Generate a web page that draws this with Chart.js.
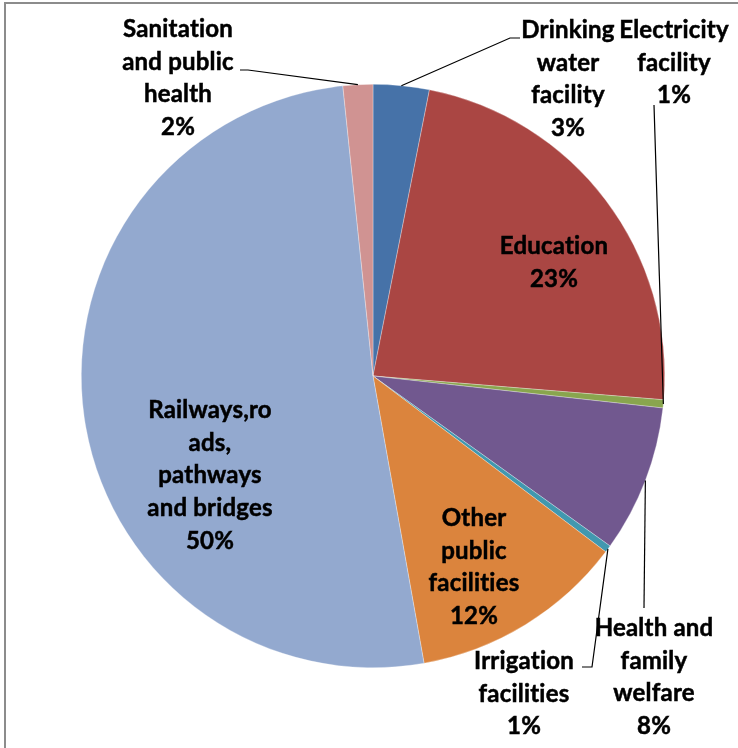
<!DOCTYPE html>
<html>
<head>
<meta charset="utf-8">
<script src="https://cdn.jsdelivr.net/npm/chart.js@4"></script>
<style>
  body { margin: 0; background: #fff; }
  #pie { display: block; }
</style>
</head>
<body>
<canvas id="pie" width="738" height="748"></canvas>
<script>
// data
const sectors = ['Drinking water facility', 'Education', 'Electricity facility', 'Health and family welfare',
  'Irrigation facilities', 'Other public facilities', 'Railways,roads, pathways and bridges', 'Sanitation and public health'];
const shares = [3.1, 23.2, 0.45, 8.15, 0.4, 11.9, 51.15, 1.65];
const pctText = ['3%', '23%', '1%', '8%', '1%', '12%', '50%', '2%'];
const labelLines = [
  ['Drinking', 'water', 'facility'],
  ['Education'],
  ['Electricity', 'facility'],
  ['Health and', 'family', 'welfare'],
  ['Irrigation', 'facilities'],
  ['Other', 'public', 'facilities'],
  ['Railways,ro', 'ads,', 'pathways', 'and bridges'],
  ['Sanitation', 'and public', 'health']
];
const colors = ['#4672A8', '#AA4643', '#89A54E', '#71588F', '#4198AF', '#DB843D', '#93A9CF', '#D09392'];

// label layout: centre x, first line y
const labelPos = [[568, 30], [554, 246], [674, 30], [654, 628], [524, 661], [474, 518], [210, 410], [178, 29]];
// leader lines start at the label side, end on the slice edge
const leaders = [
  [[520, 38], [510, 38]],
  null,
  [[654, 105]],
  [[644, 608]],
  [[582, 667], [592, 667]],
  null,
  null,
  [[240, 70], [248, 70]]
];
const lineGap = 32.7;
const fontSize = 24;

const labelPlugin = {
  id: 'sliceLabels',
  beforeDraw(chart) {
    const c = chart.ctx;
    c.save();
    c.fillStyle = '#fff';
    c.fillRect(0, 0, chart.width, chart.height);
    c.restore();
  },
  afterDraw(chart) {
    const c = chart.ctx;
    const arcs = chart.getDatasetMeta(0).data;
    c.save();
    // frame
    c.strokeStyle = '#8c8c8c';
    c.lineWidth = 2;
    c.beginPath();
    c.moveTo(5, 748);
    c.lineTo(5, 3);
    c.lineTo(738, 3);
    c.stroke();

    c.strokeStyle = '#000';
    c.lineWidth = 1.2;
    arcs.forEach(function(arc, i) {
      if (!leaders[i]) return;
      const mid = (arc.startAngle + arc.endAngle) / 2;
      const ex = arc.x + Math.cos(mid) * arc.outerRadius;
      const ey = arc.y + Math.sin(mid) * arc.outerRadius;
      c.beginPath();
      c.moveTo(leaders[i][0][0], leaders[i][0][1]);
      for (let k = 1; k < leaders[i].length; k++) c.lineTo(leaders[i][k][0], leaders[i][k][1]);
      c.lineTo(ex, ey);
      c.stroke();
    });

    c.fillStyle = '#000';
    c.lineWidth = 0.5;
    c.font = 'bold ' + fontSize + 'px Lato';
    c.letterSpacing = '0.2px'; // no ti ligatures
    c.textAlign = 'center';
    c.textBaseline = 'alphabetic';
    labelLines.forEach(function(lines, i) {
      const all = lines.concat([pctText[i]]);
      all.forEach(function(t, k) {
        const y = labelPos[i][1] + k * lineGap + 8;
        c.fillText(t, labelPos[i][0], y);
        c.strokeText(t, labelPos[i][0], y);
      });
    });
    c.restore();
  }
};

new Chart(document.getElementById('pie').getContext('2d'), {
  type: 'pie',
  data: {
    labels: sectors,
    datasets: [{
      data: shares,
      backgroundColor: colors,
      borderColor: 'rgba(255,255,255,0.5)',
      borderWidth: 0.6
    }]
  },
  options: {
    responsive: false,
    animation: false,
    layout: { padding: { left: 81, right: 73, top: 84, bottom: 80 } },
    plugins: {
      legend: { display: false },
      tooltip: { enabled: false }
    }
  },
  plugins: [labelPlugin]
});
</script>
</body>
</html>
